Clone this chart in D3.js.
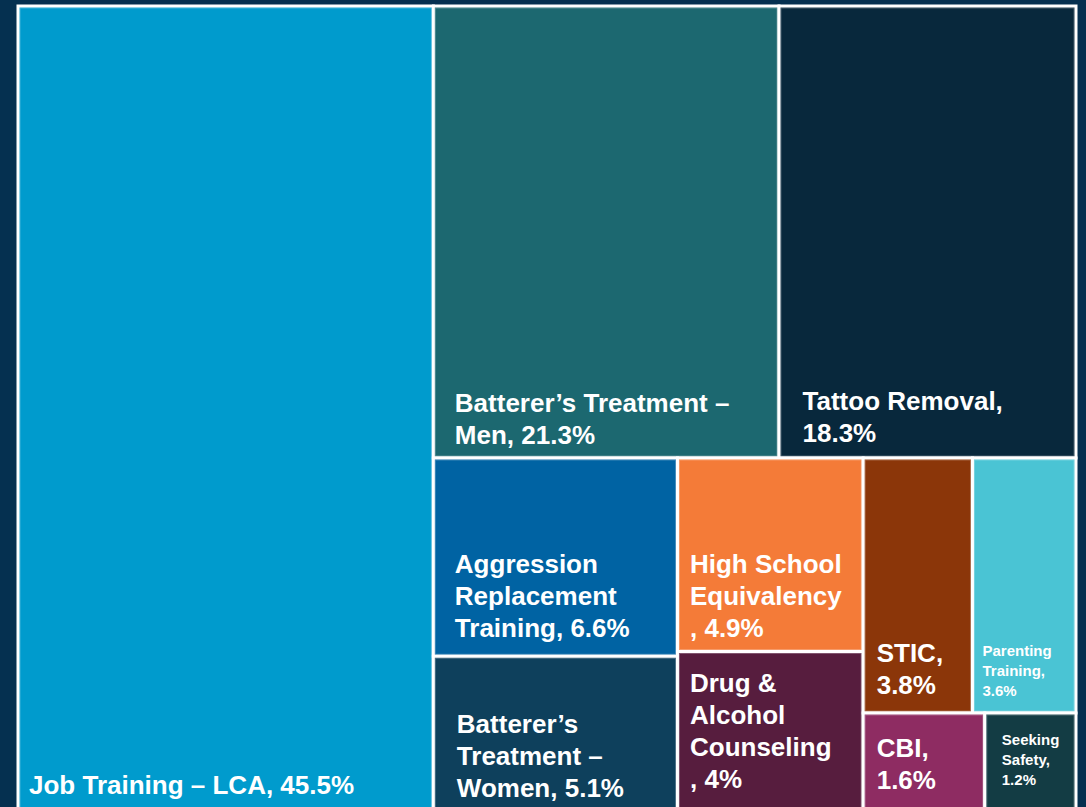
<!DOCTYPE html>
<html>
<head>
<meta charset="utf-8">
<script src="https://cdn.jsdelivr.net/npm/d3@7"></script>
<style>
    body { margin: 0; background: #053050; overflow: hidden; }
    text { font-family: "Liberation Sans", Arial, sans-serif; font-weight: bold; fill: #fff; }
</style>
</head>
<body>
<div id="main"></div>
<script>
const ctx = {
    w: 1086,
    h: 807,
    x0: 18, y0: 6, x1: 1076, y1: 809.5,
    BIG_FONT: 26,
    SMALL_FONT: 15,
};

const categories = ["Job Training – LCA", "Batterer’s Treatment – Men", "Tattoo Removal",
    "Aggression Replacement Training", "Batterer’s Treatment – Women", "High School Equivalency",
    "Drug & Alcohol Counseling", "STIC", "Parenting Training", "CBI", "Seeking Safety"];
const values = [45.5, 21.3, 18.3, 6.6, 5.1, 4.9, 4, 3.8, 3.6, 1.6, 1.2];
const labelLines = [
    ["Job Training – LCA, 45.5%"],
    ["Batterer’s Treatment –", "Men, 21.3%"],
    ["Tattoo Removal,", "18.3%"],
    ["Aggression", "Replacement", "Training, 6.6%"],
    ["Batterer’s", "Treatment –", "Women, 5.1%"],
    ["High School", "Equivalency", ", 4.9%"],
    ["Drug &", "Alcohol", "Counseling", ", 4%"],
    ["STIC,", "3.8%"],
    ["Parenting", "Training,", "3.6%"],
    ["CBI,", "1.6%"],
    ["Seeking", "Safety,", "1.2%"],
];
// grouping of the tiles (slice/dice alternates with depth)
const groupIds = ["root", "rest", "top", "lower", "col1", "col2", "corner", "cornerTop", "cornerBottom"];
const groupParents = ["", "root", "rest", "rest", "lower", "lower", "lower", "corner", "corner"];
const categoryGroup = ["root", "top", "top", "col1", "col1", "col2", "col2",
    "cornerTop", "cornerTop", "cornerBottom", "cornerBottom"];

const colors = ["#009BCD", "#1C6870", "#08283C", "#0063A3", "#0E405C", "#F47B38",
    "#571D3E", "#8B3609", "#4AC4D4", "#8E2C62", "#133C44"];
const smallLabels = ["Parenting Training", "Seeking Safety"];
// label offset from the tile's bottom-left corner
const labelDx = [11, 21.5, 23.5, 21.5, 23.5, 12.5, 12.5, 13.5, 10, 13.5, 17];
const labelDy = [16, 14, 16, 19, 13, 15, 22, 19, 17, 21, 25];

function buildHierarchy() {
    let rows = groupIds.map((id, i) => ({id: id, parent: groupParents[i] || null}));
    categories.forEach((c, i) => rows.push({id: c, parent: categoryGroup[i], value: values[i], idx: i}));
    let root = d3.stratify()
        .id(d => d.id)
        .parentId(d => d.parent)(rows);
    const firstIdx = n => d3.min(n.leaves(), l => l.data.idx);
    root.sum(d => d.value || 0)
        .sort((a, b) => firstIdx(a) - firstIdx(b));
    return root;
}

function drawTreemap(svgEl) {
    let root = buildHierarchy();
    d3.treemap()
        .tile(d3.treemapSliceDice)
        .size([ctx.x1 - ctx.x0, ctx.y1 - ctx.y0])
        .paddingInner(0)(root);

    let g = svgEl.append("g")
        .attr("transform", `translate(${ctx.x0},${ctx.y0})`);

    let cells = g.selectAll("g.cell")
        .data(root.leaves())
        .enter()
        .append("g")
        .attr("class", "cell");

    cells.append("rect")
        .attr("x", d => d.x0)
        .attr("y", d => d.y0)
        .attr("width", d => d.x1 - d.x0)
        .attr("height", d => d.y1 - d.y0)
        .style("fill", d => colors[d.data.idx])
        .style("stroke", "#fff")
        .style("stroke-width", 3);

    // faint inner edge
    cells.append("rect")
        .attr("x", d => d.x0 + 2)
        .attr("y", d => d.y0 + 2)
        .attr("width", d => d.x1 - d.x0 - 4)
        .attr("height", d => d.y1 - d.y0 - 4)
        .style("fill", "none")
        .style("stroke", "#fff")
        .style("stroke-opacity", 0.25)
        .style("stroke-width", 1);

    cells.each(function(d) {
        let i = d.data.idx;
        let small = smallLabels.includes(categories[i]);
        let fs = small ? ctx.SMALL_FONT : ctx.BIG_FONT;
        let lh = small ? 20 : 32;
        let lines = labelLines[i];
        let baseY = d.y1 - labelDy[i] - (lines.length - 1) * lh;
        let txt = d3.select(this).append("text")
            .attr("x", d.x0 + labelDx[i])
            .attr("y", baseY)
            .style("font-size", fs + "px");
        txt.selectAll("tspan")
            .data(lines)
            .enter()
            .append("tspan")
            .attr("x", d.x0 + labelDx[i])
            .attr("y", (l, k) => baseY + k * lh)
            .text(l => l);
    });
}

function createViz() {
    let svgEl = d3.select("#main").append("svg")
        .attr("width", ctx.w)
        .attr("height", ctx.h);
    svgEl.append("rect")
        .attr("width", ctx.w)
        .attr("height", ctx.h)
        .attr("fill", "#053050");
    drawTreemap(svgEl);
}

createViz();
</script>
</body>
</html>
